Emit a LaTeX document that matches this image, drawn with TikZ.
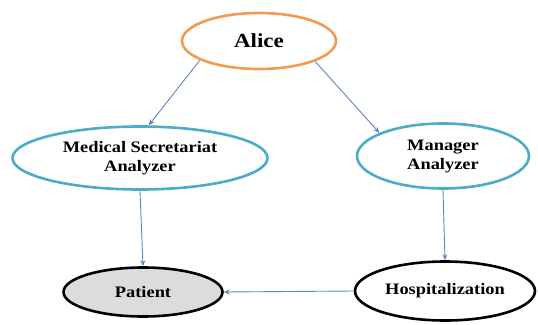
\documentclass[tikz,border=0pt]{standalone}
\usepackage{fontspec}
\setmainfont{Liberation Serif}[FakeStretch=1.15]
\usetikzlibrary{shapes.geometric,arrows.meta}
\definecolor{orangeline}{HTML}{F39A4E}
\definecolor{tealline}{HTML}{4BACC6}
\definecolor{arrowblue}{HTML}{5B87C0}
\definecolor{patfill}{HTML}{DCDCDC}
\tikzset{
  ell/.style={ellipse, draw, line width=2.6pt, inner sep=0pt, align=center,
    font=\fontsize{16}{19}\selectfont\bfseries},
  alicebox/.style={ell, draw=orangeline, font=\fontsize{20}{22}\selectfont\bfseries},
  analyzer/.style={ell, draw=tealline},
  endbox/.style={ell, draw=black},
  conn/.style={draw=arrowblue, line width=0.9pt, -{Stealth[length=6pt,width=5pt]}}
}
\begin{document}
\begin{tikzpicture}[x=1pt,y=-1pt]
\useasboundingbox (0,0) rectangle (538,324);
\node[alicebox, minimum width=154pt, minimum height=56pt] (alice) at (259,41) {Alice};
\node[analyzer, minimum width=255pt, minimum height=63pt] (med) at (140,158) {Medical Secretariat\\Analyzer};
\node[analyzer, minimum width=172pt, minimum height=65pt] (mgr) at (443,156) {Manager\\Analyzer};
\node[endbox, fill=patfill, minimum width=159pt, minimum height=49pt] (pat) at (143,292) {Patient};
\node[endbox, minimum width=180pt, minimum height=59pt] (hosp) at (445,291) {Hospitalization};
\draw[conn] (alice.198) -- (med.75);
\draw[conn] (alice.340) -- (mgr.160);
\draw[conn] (med.south) -- (pat.north);
\draw[conn] (mgr.south) -- (hosp.north);
\draw[conn] (hosp.west) -- (pat.east);
\end{tikzpicture}
\end{document}
